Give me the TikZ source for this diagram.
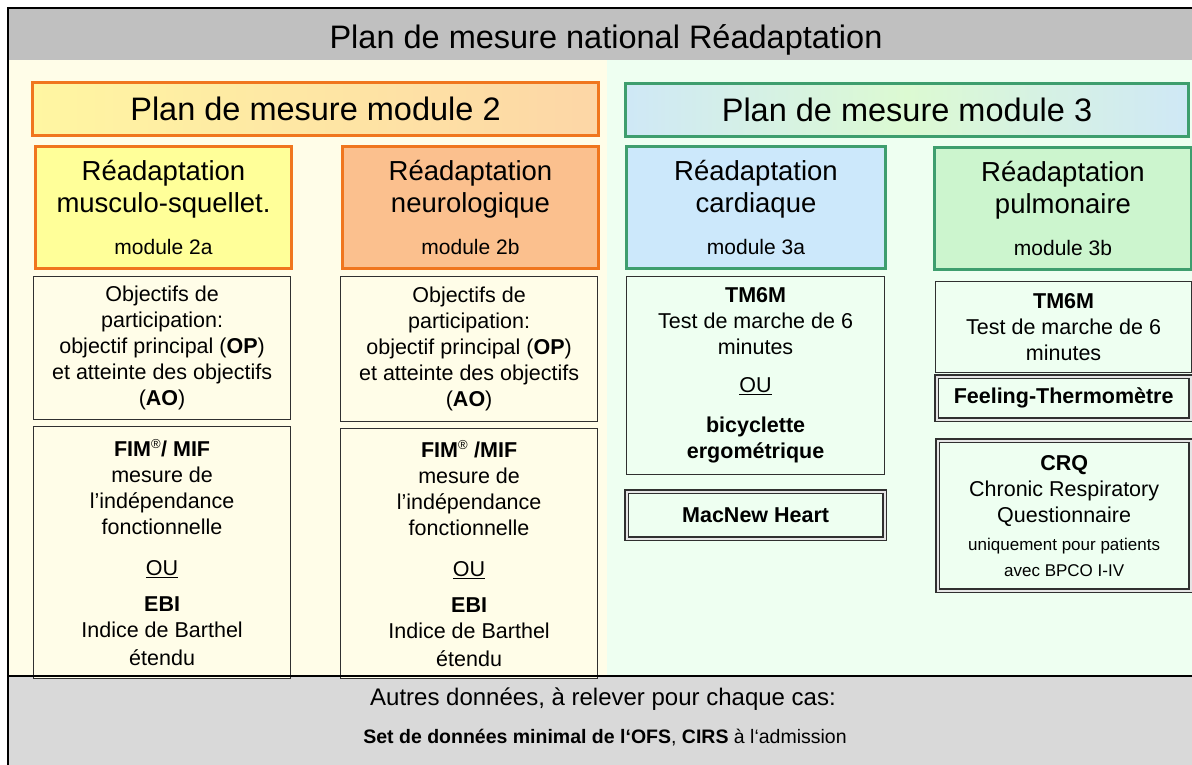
\documentclass[tikz,border=0pt]{standalone}
\usepackage{fontspec}
\setmainfont{Liberation Sans}
\usetikzlibrary{positioning}

\definecolor{frameorange}{HTML}{F0761E}
\definecolor{framegreen}{HTML}{3E9E6E}
\definecolor{bandgray}{HTML}{C0C0C0}
\definecolor{footgray}{HTML}{D9D9D9}
\definecolor{leftbg}{HTML}{FFFDE8}
\definecolor{rightbg}{HTML}{EEFFF1}
\definecolor{muscfill}{HTML}{FFFF99}
\definecolor{neurofill}{HTML}{FBC08E}
\definecolor{cardfill}{HTML}{CCE8FB}
\definecolor{pulmfill}{HTML}{CCF5CE}
\definecolor{boxline}{HTML}{303030}
\definecolor{headyellow}{HTML}{FFF6A2}
\definecolor{headpeach}{HTML}{FDD6A6}
\definecolor{headblue}{HTML}{CFE8F6}
\definecolor{headgreen}{HTML}{DCFAD2}

\newcommand{\fsz}[2]{\fontsize{#1}{#2}\selectfont}
\newcommand{\modline}[1]{{\fsz{21}{25}#1}}
\newcommand{\regmark}{\textsuperscript{\fsz{13}{13}\mdseries ®}}

\tikzset{
  modhead/.style={line width=3pt, anchor=north west, inner sep=0pt, minimum height=53pt, font=\fsz{32.5}{38}},
  subhead/.style={line width=3pt, anchor=north west, inner sep=0pt, align=center, minimum height=122pt, font=\fsz{27.5}{32}},
  infobox/.style={draw=boxline, line width=1.2pt, anchor=north west, inner sep=0pt, align=center, font=\fsz{21.5}{26}},
  dblbox/.style={infobox, double=gray!20, double distance=1.8pt, line width=1.3pt}
}

\begin{document}
\begin{tikzpicture}[x=1pt,y=-1pt]
  \useasboundingbox (0,0) rectangle (1192,764);
  \clip (0,0) rectangle (1192,764);

  % backgrounds, title band and footer band
  \fill[leftbg] (8,60) rectangle (607,676);
  \fill[rightbg] (607,60) rectangle (1200,676);
  \fill[bandgray] (8,8) rectangle (1200,60);
  \fill[footgray] (8,676) rectangle (1200,772);
  \draw[line width=1.5pt] (8,772) -- (8,8) -- (1200,8);

  \node[font=\fsz{32.5}{38}, anchor=base] (titre) at (606,48) {Plan de mesure national Réadaptation};

  % module 2
  \node[modhead, draw=frameorange, left color=headyellow, right color=headpeach, minimum width=566pt] (mod2) at (31,81) {Plan de mesure module 2};
  \node[subhead, draw=frameorange, fill=muscfill, minimum width=256pt] (musc) at (34,145)
    {Réadaptation\\musculo-squellet.\\[10pt]\modline{module 2a}};
  \node[subhead, draw=frameorange, fill=neurofill, minimum width=256pt] (neuro) at (341,145)
    {Réadaptation\\neurologique\\[10pt]\modline{module 2b}};

  \node[infobox, fill=leftbg, minimum width=257pt, minimum height=143pt] (op2a) at (33,276)
    {Objectifs de\\participation:\\objectif principal (\textbf{OP})\\et atteinte des objectifs\\(\textbf{AO})};
  \node[infobox, fill=leftbg, minimum width=257pt, minimum height=252pt] (fim2a) at (33,426)
    {\textbf{FIM\regmark/ MIF}\\mesure de\\l’indépendance\\fonctionnelle\\[15pt]\underline{OU}\\[10pt]\textbf{EBI}\\Indice de Barthel\\[2pt]étendu};

  \node[infobox, fill=leftbg, minimum width=257pt, minimum height=145pt] (op2b) at (340,276)
    {Objectifs de\\participation:\\objectif principal (\textbf{OP})\\et atteinte des objectifs\\(\textbf{AO})};
  \node[infobox, fill=leftbg, minimum width=257pt, minimum height=250pt] (fim2b) at (340,428)
    {\textbf{FIM\regmark{} /MIF}\\mesure de\\l’indépendance\\fonctionnelle\\[15pt]\underline{OU}\\[10pt]\textbf{EBI}\\Indice de Barthel\\[2pt]étendu};

  % module 3
  \node[modhead, draw=framegreen, shading=axis, left color=headblue, right color=headblue, middle color=headgreen, minimum width=563pt] (mod3) at (624,82) {Plan de mesure module 3};
  \node[subhead, draw=framegreen, fill=cardfill, minimum width=259pt] (card) at (625,145)
    {Réadaptation\\cardiaque\\[10pt]\modline{module 3a}};
  \node[subhead, draw=framegreen, fill=pulmfill, minimum width=257pt] (pulm) at (933,146)
    {Réadaptation\\pulmonaire\\[10pt]\modline{module 3b}};

  \node[infobox, fill=rightbg, minimum width=258pt, minimum height=198pt] (tm3a) at (626,276)
    {\textbf{TM6M}\\Test de marche de 6\\minutes\\[12pt]\underline{OU}\\[14pt]\textbf{bicyclette}\\\textbf{ergométrique}};
  \node[dblbox, fill=rightbg, minimum width=258pt, minimum height=47pt] (macnew) at (626,491)
    {\textbf{MacNew Heart}};

  \node[infobox, fill=rightbg, minimum width=256pt, minimum height=91pt] (tm3b) at (935,281)
    {\textbf{TM6M}\\Test de marche de 6\\minutes};
  \node[dblbox, fill=rightbg, minimum width=254pt, minimum height=43pt] (feel) at (936,376)
    {\textbf{Feeling-Thermomètre}};
  \node[dblbox, fill=rightbg, minimum width=253pt, minimum height=150pt] (crq) at (937,440)
    {\textbf{CRQ}\\Chronic Respiratory\\Questionnaire\\[2pt]{\fsz{17}{22}uniquement pour patients}\\{\fsz{17}{22}avec BPCO I-IV}};

  % footer
  \draw[line width=1.5pt] (8,676) -- (1200,676);
  \node[font=\fsz{24}{28}, anchor=base] (autres) at (603,705) {Autres données, à relever pour chaque cas:};
  \node[font=\fsz{19.5}{24}, anchor=base] (ofs) at (605,743)
    {\textbf{Set de données minimal de l‘OFS}, \textbf{CIRS} à l‘admission};
\end{tikzpicture}
\end{document}
